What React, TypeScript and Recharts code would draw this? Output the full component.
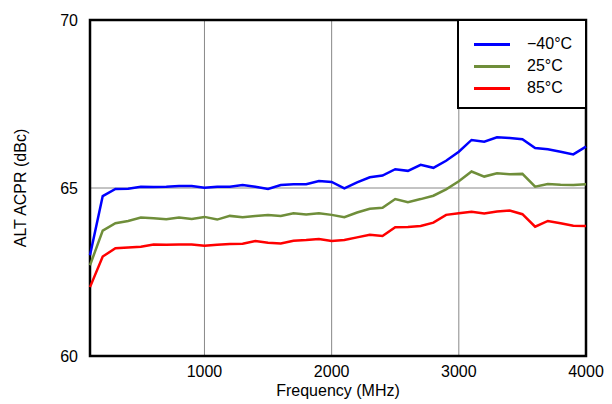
import React from "react";
import {
  LineChart,
  Line,
  XAxis,
  YAxis,
  CartesianGrid,
  ReferenceArea,
  Legend,
} from "recharts";

const frequencies = [
  100, 200, 300, 400, 500, 600, 700, 800, 900, 1000,
  1100, 1200, 1300, 1400, 1500, 1600, 1700, 1800, 1900, 2000,
  2100, 2200, 2300, 2400, 2500, 2600, 2700, 2800, 2900, 3000,
  3100, 3200, 3300, 3400, 3500, 3600, 3700, 3800, 3900, 4000,
];

const minus40 = [
  63.0, 64.76, 64.97, 64.98, 65.04, 65.03, 65.04, 65.06, 65.06, 65.01,
  65.04, 65.04, 65.09, 65.04, 64.97, 65.09, 65.11, 65.11, 65.21, 65.18,
  64.99, 65.17, 65.32, 65.37, 65.56, 65.51, 65.69, 65.6, 65.81, 66.08,
  66.43, 66.38, 66.51, 66.49, 66.45, 66.19, 66.15, 66.08, 66.0, 66.23,
];

const plus25 = [
  62.7, 63.73, 63.95, 64.02, 64.12, 64.1, 64.07, 64.12, 64.08, 64.14,
  64.06, 64.17, 64.13, 64.17, 64.2, 64.17, 64.25, 64.21, 64.25, 64.2,
  64.13, 64.27, 64.38, 64.41, 64.67, 64.58, 64.67, 64.77, 64.96, 65.2,
  65.49, 65.34, 65.44, 65.41, 65.42, 65.04, 65.12, 65.1, 65.09, 65.11,
];

const plus85 = [
  62.05, 62.96, 63.21, 63.23, 63.25, 63.32, 63.31, 63.32, 63.32, 63.28,
  63.31, 63.33, 63.34, 63.42, 63.37, 63.35, 63.43, 63.45, 63.48, 63.42,
  63.45, 63.53, 63.61, 63.57, 63.83, 63.84, 63.87, 63.97, 64.2, 64.25,
  64.29, 64.24, 64.3, 64.33, 64.22, 63.85, 64.02, 63.95, 63.88, 63.87,
];

const xTicks = [1000, 2000, 3000, 4000];
const yTicks = [60, 65, 70];

const seriesNames = ["\u221240\u00b0C", "25\u00b0C", "85\u00b0C"];
const seriesKeys = ["m40", "p25", "p85"];
const seriesColors = ["#0000FF", "#6F8E3A", "#FF0000"];

const data = frequencies.map((f, i) => ({
  f,
  m40: minus40[i],
  p25: plus25[i],
  p85: plus85[i],
}));

const FONT = "'Liberation Sans', Arial, sans-serif";

const LegendBox = () => (
  <div
    style={{
      width: 130,
      height: 90,
      boxSizing: "border-box",
      border: "2px solid #000",
      background: "#fff",
      position: "relative",
      fontFamily: FONT,
      fontSize: 16,
      color: "#000",
    }}
  >
    {seriesNames.map((name, i) => (
      <div
        key={name}
        style={{
          position: "absolute",
          left: 0,
          top: 12 + i * 22,
          height: 22,
          width: "100%",
        }}
      >
        <div
          style={{
            position: "absolute",
            left: 15,
            top: 10,
            width: 36,
            height: 3,
            background: seriesColors[i],
          }}
        />
        <span
          style={{
            position: "absolute",
            left: 68,
            top: 1,
            lineHeight: "20px",
            whiteSpace: "nowrap",
          }}
        >
          {name}
        </span>
      </div>
    ))}
  </div>
);

export default function App() {
  return (
    <div style={{ position: "absolute", left: 0, top: 0, width: 612, height: 404, background: "#fff" }}>
      <LineChart
        width={612}
        height={404}
        data={data}
        margin={{ top: 20, right: 26, bottom: 0, left: 0 }}
      >
        <CartesianGrid stroke="#888" strokeWidth={1} vertical horizontal />
        <XAxis
          dataKey="f"
          type="number"
          domain={[100, 4000]}
          ticks={xTicks}
          height={48}
          tickLine={false}
          tickSize={0}
          tickMargin={10}
          axisLine={false}
          tick={{ fill: "#000", fontSize: 16, fontFamily: FONT }}
          label={{
            value: "Frequency (MHz)",
            position: "insideBottom",
            offset: 8,
            fill: "#000",
            fontSize: 16,
            fontFamily: FONT,
          }}
        />
        <YAxis
          type="number"
          domain={[60, 70]}
          ticks={yTicks}
          width={90}
          tickLine={false}
          tickSize={0}
          tickMargin={12}
          axisLine={false}
          tick={{ fill: "#000", fontSize: 16, fontFamily: FONT }}
          label={{
            value: "ALT ACPR (dBc)",
            angle: -90,
            position: "insideLeft",
            offset: 20,
            style: { textAnchor: "middle" },
            fill: "#000",
            fontSize: 16,
            fontFamily: FONT,
          }}
        />
        <ReferenceArea
          x1={100}
          x2={4000}
          y1={60}
          y2={70}
          fill="none"
          stroke="#000"
          strokeWidth={2.5}
          ifOverflow="visible"
        />
        {seriesKeys.map((k, i) => (
          <Line
            key={k}
            type="linear"
            dataKey={k}
            name={seriesNames[i]}
            stroke={seriesColors[i]}
            strokeWidth={2.5}
            dot={false}
            isAnimationActive={false}
          />
        ))}
        <Legend
          layout="vertical"
          align="center"
          verticalAlign="middle"
          content={() => <LegendBox />}
          wrapperStyle={{ position: "absolute", left: 457, top: 19, width: 130, height: 90 }}
        />
      </LineChart>
    </div>
  );
}
